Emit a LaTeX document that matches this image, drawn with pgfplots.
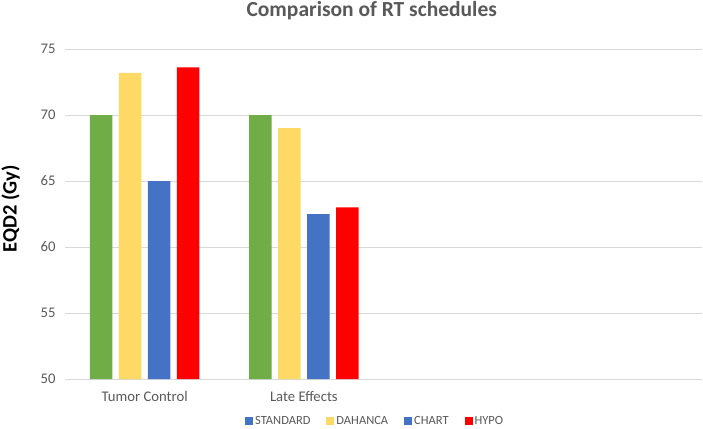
\documentclass[border=0pt]{standalone}
\usepackage{fontspec}
\setmainfont{Carlito}
\usepackage{pgfplots}
\pgfplotsset{compat=1.18}
\definecolor{cgreen}{HTML}{70AD47}
\definecolor{cyellow}{HTML}{FFD966}
\definecolor{cblue}{HTML}{4472C4}
\definecolor{cred}{HTML}{FF0000}
\definecolor{tickc}{HTML}{595959}
\definecolor{gridc}{HTML}{D9D9D9}
\begin{document}
\begin{tikzpicture}
\path[use as bounding box] (-65bp,-50bp) rectangle (638bp,379bp);
\begin{axis}[
  at={(0,0)}, anchor=south west,
  scale only axis, width=637bp, height=330bp,
  ybar=6.3bp, bar width=22.7bp,
  xmin=-0.5, xmax=3.5, ymin=50, ymax=75,
  enlargelimits=false,
  xtick={0,1}, xticklabels={Tumor Control, Late Effects},
  ytick={50,55,...,75},
  ymajorgrids, grid style={draw=gridc, line width=0.8bp},
  axis x line*=bottom, axis y line*=left,
  y axis line style={draw=none},
  x axis line style={draw=gridc, line width=0.8bp, -},
  major tick length=0pt,
  tick label style={font=\fontsize{14.7bp}{17bp}\selectfont, text=tickc},
  xticklabel style={yshift=-9bp},
  yticklabel style={xshift=-6bp},
  /pgf/number format/assume math mode=true,
  ylabel={\textbf{EQD2 (Gy)}},
  ylabel style={font=\fontsize{20.5bp}{23bp}\selectfont, text=black, at={(axis description cs:-0.0855,0.515)}, anchor=center},
  title={\textbf{Comparison of RT schedules}},
  title style={font=\fontsize{21.5bp}{25bp}\selectfont, text=tickc, at={(axis description cs:0.4815,1)}, anchor=center, yshift=32bp},
  legend style={at={(axis description cs:0.487,-0.127)}, anchor=center, draw=none, font=\fontsize{12.5bp}{14bp}\selectfont, text=tickc, legend columns=-1, /tikz/every even column/.append style={column sep=14bp}},
  legend image code/.code={\fill[#1] (0bp,-4bp) rectangle (8bp,4bp);},
]
\addplot[fill=cgreen, draw=none, legend image code/.code={\fill[cblue] (0bp,-4bp) rectangle (8bp,4bp);}] coordinates {(0,70) (1,70)};
\addplot[fill=cyellow, draw=none] coordinates {(0,73.2) (1,69)};
\addplot[fill=cblue, draw=none] coordinates {(0,65) (1,62.5)};
\addplot[fill=cred, draw=none] coordinates {(0,73.6) (1,63)};
\legend{STANDARD, DAHANCA, CHART, HYPO}
\end{axis}
\end{tikzpicture}
\end{document}
